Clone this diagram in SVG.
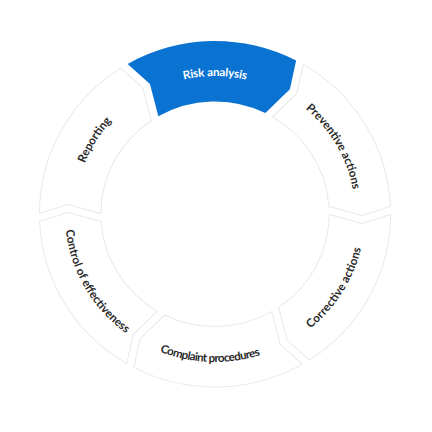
<svg xmlns="http://www.w3.org/2000/svg" width="432" height="432" viewBox="0 0 432 432">
<style>
.seg{fill:#ffffff;stroke:#e9e9e9;stroke-width:1}
.active{fill:#0a73d2;stroke:none}
.lbl{font-family:Lato,"Noto Sans","DejaVu Sans",sans-serif;font-size:11.5px;font-weight:700;fill:#2a2a2a;text-anchor:middle}
.lbl.w{fill:#ffffff}
</style>
<defs>
<path id="seg" d="M -86.066 -150.073 A 173 173 0 0 1 79.925 -153.431 L 73.796 -124.817 L 49.634 -100.959 A 112.5 112.5 0 0 0 -55.816 -97.678 L -64.123 -130.052 Z"/>
<path id="p-risk" d="M -88.70 -105.71 A 138 138 0 0 1 88.70 -105.71"/>
<path id="p-prev" d="M 47.20 -129.68 A 138 138 0 0 1 135.90 23.96"/>
<path id="p-corr" d="M 45.73 140.76 A 148 148 0 0 0 146.56 -20.60"/>
<path id="p-comp" d="M -99.03 109.99 A 148 148 0 0 0 91.12 116.63"/>
<path id="p-ctrl" d="M -145.75 -25.70 A 148 148 0 0 0 -50.62 139.07"/>
<path id="p-rep" d="M -136.66 19.21 A 138 138 0 0 1 -42.64 -131.25"/>
</defs>
<rect width="432" height="432" fill="#ffffff"/>
<g transform="translate(215 214) scale(1.015 1)">
<g id="connectors"></g>
<g id="risk-analysis">
<use href="#seg" class="active"/>
<text class="lbl w"><textPath href="#p-risk" startOffset="50%" textLength="62" lengthAdjust="spacing">Risk analysis</textPath></text>
</g>
<g id="preventive-actions">
<use href="#seg" class="seg" transform="rotate(60)"/>
<text class="lbl"><textPath href="#p-prev" startOffset="50%" textLength="95" lengthAdjust="spacing">Preventive actions</textPath></text>
</g>
<g id="corrective-actions">
<use href="#seg" class="seg" transform="rotate(120)"/>
<text class="lbl"><textPath href="#p-corr" startOffset="50%" textLength="96" lengthAdjust="spacing">Corrective actions</textPath></text>
</g>
<g id="complaint-procedures">
<use href="#seg" class="seg" transform="rotate(180)"/>
<text class="lbl"><textPath href="#p-comp" startOffset="50%" textLength="101" lengthAdjust="spacing">Complaint procedures</textPath></text>
</g>
<g id="control-of-effectiveness">
<use href="#seg" class="seg" transform="rotate(240)"/>
<text class="lbl"><textPath href="#p-ctrl" startOffset="50%" textLength="122.6" lengthAdjust="spacing">Control of effectiveness</textPath></text>
</g>
<g id="reporting">
<use href="#seg" class="seg" transform="rotate(300)"/>
<text class="lbl"><textPath href="#p-rep" startOffset="50%" textLength="50" lengthAdjust="spacing">Reporting</textPath></text>
</g>
</g>
</svg>
